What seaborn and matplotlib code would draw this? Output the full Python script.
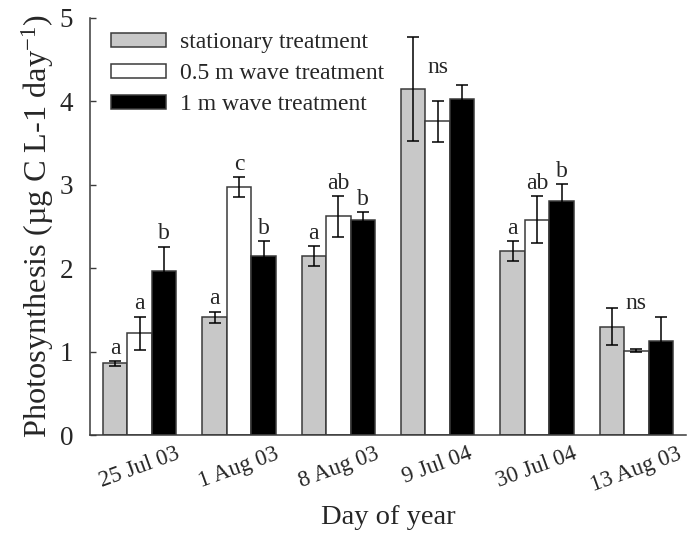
import matplotlib
matplotlib.use("Agg")
import matplotlib.pyplot as plt
import seaborn as sns
import pandas as pd
import numpy as np

# Sampling dates (x categories)
dates = ["25 Jul 03", "1 Aug 03", "8 Aug 03", "9 Jul 04", "30 Jul 04", "13 Aug 03"]
treatments = ["stationary treatment", "0.5 m wave treatment", "1 m wave treatment"]

# Mean photosynthesis per date, one list per treatment
stationary = [0.86, 1.41, 2.15, 4.15, 2.21, 1.30]
wave_05 = [1.22, 2.97, 2.62, 3.76, 2.58, 1.01]
wave_1 = [1.97, 2.15, 2.58, 4.03, 2.80, 1.13]

# Standard errors
stationary_se = [0.03, 0.07, 0.12, 0.62, 0.12, 0.22]
wave_05_se = [0.20, 0.12, 0.24, 0.25, 0.28, 0.02]
wave_1_se = [0.29, 0.18, 0.09, 0.17, 0.21, 0.29]

# Significance letters (None = no letter drawn on that bar)
stationary_sig = ["a", "a", "a", None, "a", None]
wave_05_sig = ["a", "c", "ab", "ns", "ab", "ns"]
wave_1_sig = ["b", "b", "b", None, "b", None]

means = [stationary, wave_05, wave_1]
errors = [stationary_se, wave_05_se, wave_1_se]
letters = [stationary_sig, wave_05_sig, wave_1_sig]

df = pd.DataFrame({
    "date": dates * 3,
    "treatment": np.repeat(treatments, len(dates)),
    "value": stationary + wave_05 + wave_1,
})

sns.set_style("ticks")
plt.rcParams["font.family"] = ["Liberation Serif", "DejaVu Serif"]
plt.rcParams["mathtext.fontset"] = "custom"
plt.rcParams["mathtext.rm"] = "Liberation Serif"
plt.rcParams["mathtext.it"] = "Liberation Serif:italic"

fig = plt.figure(figsize=(6.94, 5.35), dpi=100)
ax = fig.add_axes([0.1297, 0.1869, 0.8588, 0.7795])

edge = "#3a3a3a"
palette = ["#c8c8c8", "#ffffff", "#000000"]
sns.barplot(data=df, x="date", y="value", hue="treatment", order=dates,
            hue_order=treatments, palette=palette, width=0.74,
            errorbar=None, edgecolor=edge, linewidth=1.1, ax=ax)

# "ns" labels sit higher above their bars than the group letters do
ns_lift = {3: 16, 5: 25.5}

for cont, err, sig in zip(ax.containers, errors, letters):
    for i, (bar, e, s) in enumerate(zip(cont, err, sig)):
        xc = bar.get_x() + bar.get_width() / 2
        h = bar.get_height()
        ax.errorbar(xc, h, yerr=e, fmt="none", ecolor="black",
                    elinewidth=1.1, capsize=4.6, capthick=1.1, zorder=5)
        if s is None:
            continue
        lift = ns_lift.get(i, 22) if s == "ns" else 1.5
        ax.annotate(s, (xc, h + e), xytext=(0, lift),
                    textcoords="offset points", ha="center", va="bottom",
                    fontsize=17)

ax.set_xlim(-0.5, 5.5)
ax.set_ylim(0, 5)
ax.set_yticks([0, 1, 2, 3, 4, 5])
ax.tick_params(axis="y", direction="in", length=4.5, width=1.0,
               labelsize=19.5, pad=12, color=edge)
ax.tick_params(axis="x", length=0, labelsize=16.5, pad=6)
for lab in ax.get_xticklabels():
    lab.set_rotation(20)
    lab.set_ha("center")

for side in ["top", "right"]:
    ax.spines[side].set_visible(False)
for side in ["left", "bottom"]:
    ax.spines[side].set_color(edge)
    ax.spines[side].set_linewidth(1.1)

ax.set_xlabel("Day of year", fontsize=20.5, labelpad=7)
ax.set_ylabel(r"Photosynthesis (µg C L-1 day$^{-1}$)", fontsize=23.3, labelpad=3)

ax.legend(loc="upper left", bbox_to_anchor=(0.012, 1.0), frameon=False,
          fontsize=17, handlelength=2.3, handleheight=0.55,
          labelspacing=0.42, handletextpad=0.6, borderaxespad=0.2)

fig.savefig("out.png", dpi=100)
